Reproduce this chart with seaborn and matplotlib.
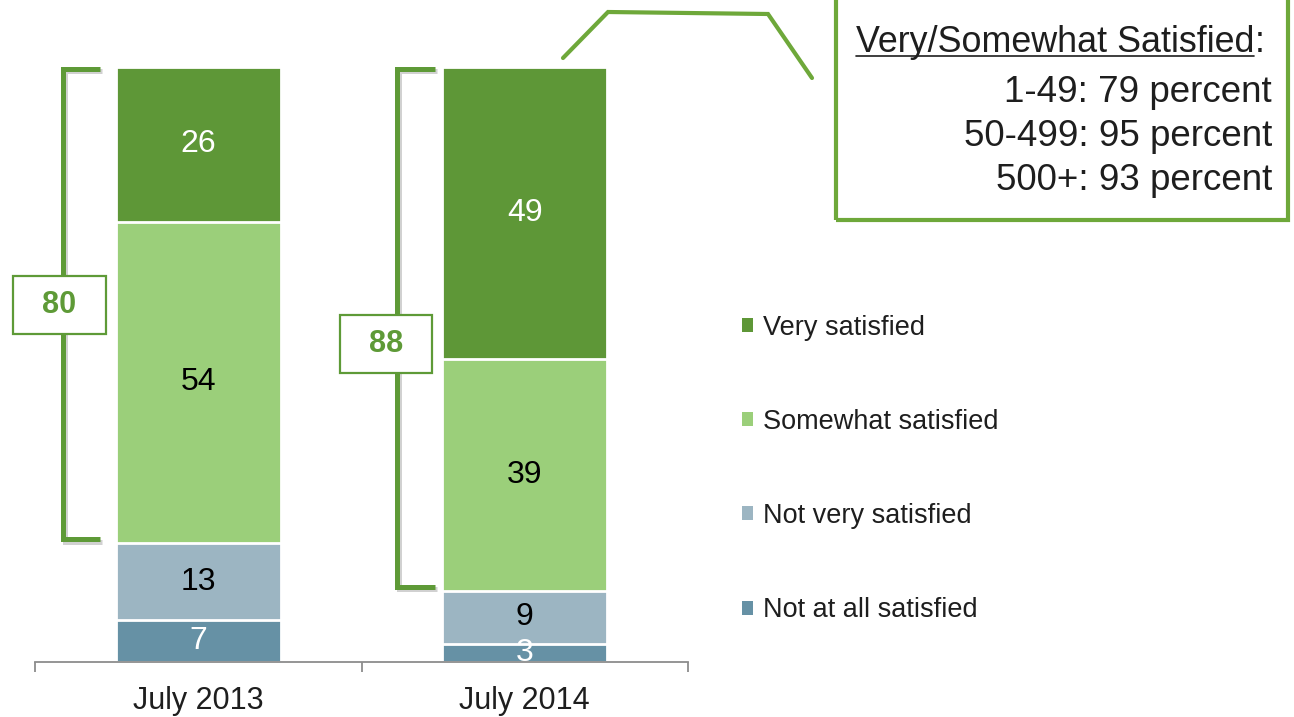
import matplotlib
matplotlib.use("Agg")
import matplotlib.pyplot as plt
import matplotlib.patheffects as pe
from matplotlib.patches import Rectangle, Patch
from matplotlib.lines import Line2D
import numpy as np
import seaborn as sns

# ---- data ----
periods = ["July 2013", "July 2014"]
levels = ["Very satisfied", "Somewhat satisfied", "Not very satisfied", "Not at all satisfied"]
very = [26, 49]
somewhat = [54, 39]
not_very = [13, 9]
not_at_all = [7, 3]
satisfied_totals = [80, 88]
callout_title = "Very/Somewhat Satisfied"
callout_lines = ["1-49: 79 percent", "50-499: 95 percent", "500+: 93 percent"]

# ---- style ----
colors = ["#5E9737", "#9BCF7A", "#9CB5C2", "#6691A5"]       # legend order (top -> bottom)
label_colors = ["white", "black", "black", "white"]
bracket_color = "#5E9A37"
callout_color = "#6EA83A"
axis_gray = "#8C8C8C"
text_dark = "#1E1E1E"

sns.set_theme(style="white")
plt.rcParams["font.family"] = ["Liberation Sans", "DejaVu Sans"]

W, H = 1294, 717
fig = plt.figure(figsize=(W / 100, H / 100), dpi=100)
ax = fig.add_axes([35 / W, 55 / H, 653 / W, 595 / H])

# stacked segments, bottom -> top
stack = np.array([not_at_all, not_very, somewhat, very])
stack_colors = colors[::-1]
stack_text = label_colors[::-1]
cum = np.cumsum(stack, axis=0)

# layered cumulative bars: tallest first so each lower layer covers the one above
for k in range(len(stack) - 1, -1, -1):
    sns.barplot(x=periods, y=cum[k], color=stack_colors[k], saturation=1,
                width=0.505, edgecolor="white", linewidth=2, errorbar=None, ax=ax)

# value labels centred in each segment
for k in range(len(stack)):
    for i in range(len(periods)):
        ax.text(i, cum[k][i] - stack[k][i] / 2, f"{stack[k][i]}",
                ha="center", va="center", fontsize=23, color=stack_text[k], zorder=5)

ax.set_xlim(-0.5, len(periods) - 0.5)
ax.set_ylim(0, 100)
ax.set_yticks([])
ax.set_xlabel("")
ax.set_ylabel("")
for side in ["top", "left", "right"]:
    ax.spines[side].set_visible(False)
ax.spines["bottom"].set_color(axis_gray)
ax.spines["bottom"].set_linewidth(1.3)
ax.set_xticks(range(len(periods)))
ax.set_xticklabels(periods, fontsize=22, color=text_dark)
ax.set_xticks(np.arange(-0.5, len(periods)), minor=True)
ax.tick_params(axis="x", which="major", bottom=True, length=0, pad=17)
ax.tick_params(axis="x", which="minor", bottom=True, length=7, width=1.3,
               color=axis_gray, direction="out")

# brackets for combined "satisfied" share
x_vert = [-0.415, 0.609]
box_shift = [-0.01, -0.035]
for i in range(len(periods)):
    top = cum[3][i]
    bottom = cum[1][i]
    xv = x_vert[i]
    xa = xv + 0.115
    ax.plot([xa, xv, xv, xa], [top - 0.4, top - 0.4, bottom + 0.6, bottom + 0.6],
            color=bracket_color, lw=3.6, solid_joinstyle="miter", solid_capstyle="butt",
            clip_on=False, zorder=3,
            path_effects=[pe.SimpleLineShadow(offset=(1.5, -1.5), alpha=0.2), pe.Normal()])
    mid = (top + bottom) / 2 - (0 if i == 0 else 2.5)
    bx = xv + box_shift[i]
    bw, bh = 0.282, 9.75
    ax.add_patch(Rectangle((bx - bw / 2, mid - bh / 2), bw, bh, facecolor="white",
                           edgecolor=bracket_color, lw=1.6, clip_on=False, zorder=4))
    ax.text(bx, mid, f"{satisfied_totals[i]}", ha="center", va="center",
            fontsize=22, fontweight="bold", color=bracket_color, zorder=5)

# legend
handles = [Patch(facecolor=c, edgecolor="none", label=l) for c, l in zip(colors, levels)]
fig.legend(handles=handles, loc="center left", bbox_to_anchor=(742 / W, 1 - 469 / H),
           frameon=False, fontsize=19.5, labelcolor=text_dark, handlelength=0.42,
           handleheight=0.42, handletextpad=0.35, labelspacing=2.52, borderpad=0,
           borderaxespad=0)

# callout box with connector
fig.add_artist(Rectangle((836 / W, 1 - 220 / H), (1288 - 836) / W, 0.5,
                         transform=fig.transFigure, fill=False, edgecolor=callout_color,
                         lw=3, clip_on=False))
fig.add_artist(Line2D(np.array([563, 608, 768, 812]) / W, 1 - np.array([58, 12, 14, 78]) / H,
                      transform=fig.transFigure, color=callout_color, lw=3,
                      solid_joinstyle="miter"))

title = fig.text(856 / W, 1 - 52 / H, callout_title, fontsize=25.8, color=text_dark,
                 ha="left", va="baseline")
fig.canvas.draw()
bb = title.get_window_extent(fig.canvas.get_renderer())
x1 = bb.x1 / W
fig.text(x1, 1 - 52 / H, ":", fontsize=25.8, color=text_dark, ha="left", va="baseline")
fig.add_artist(Line2D([856 / W, x1], [1 - 56 / H, 1 - 56 / H], transform=fig.transFigure,
                      color=text_dark, lw=1.2))
for line, base in zip(callout_lines, [102, 146, 190]):
    fig.text(1272 / W, 1 - base / H, line, fontsize=26.5, color=text_dark,
             ha="right", va="baseline")

fig.savefig("out.png", dpi=100)
